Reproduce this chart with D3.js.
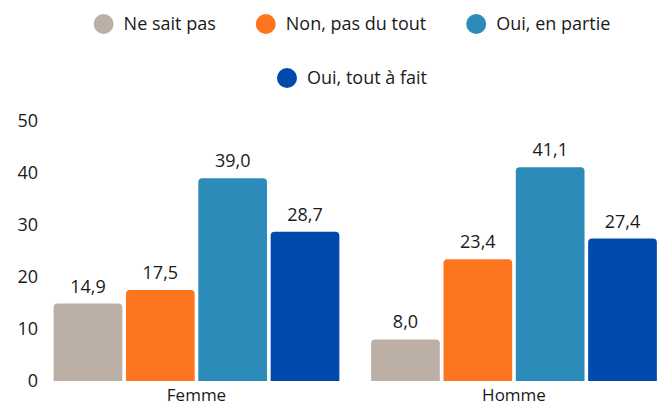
<!DOCTYPE html>
<html><head><meta charset="utf-8">
<script src="https://cdn.jsdelivr.net/npm/d3@7"></script>
<style>body{margin:0;background:#fff}text{font-family:"Open Sans",sans-serif;fill:#1a1a1a}</style>
</head><body><svg id="c" width="667" height="407"></svg>
<script>
const categories = ["Femme", "Homme"];
const seriesNames = ["Ne sait pas", "Non, pas du tout", "Oui, en partie", "Oui, tout à fait"];
const seriesColors = ["#bcb0a6", "#fe7520", "#2d8bba", "#004aad"];
const values = {
  "Ne sait pas": [14.9, 8.0],
  "Non, pas du tout": [17.5, 23.4],
  "Oui, en partie": [39.0, 41.1],
  "Oui, tout à fait": [28.7, 27.4]
};
const yTicks = [0, 10, 20, 30, 40, 50];

const svg = d3.select("#c");
const fmt = v => v.toFixed(1).replace(".", ",");
const fs = 18;

const y = d3.scaleLinear().domain([0, 50]).range([381, 121]);
const x0 = d3.scaleBand().domain(categories).range([37.75, 672.75]).paddingInner(0.1).paddingOuter(0.05);
const x1 = d3.scaleBand().domain(seriesNames).range([0, x0.bandwidth()]).paddingInner(0.05);
const color = d3.scaleOrdinal().domain(seriesNames).range(seriesColors);

// y axis labels
svg.append("g").selectAll("text").data(yTicks).join("text")
  .attr("x", 38).attr("y", d => y(d)).attr("dy", "0.35em")
  .attr("text-anchor", "end").attr("font-size", fs).text(d => d);

// bars
function topRounded(x, yTop, w, h, r) {
  r = Math.min(r, h, w / 2);
  return `M${x},${yTop + h}V${yTop + r}Q${x},${yTop} ${x + r},${yTop}H${x + w - r}Q${x + w},${yTop} ${x + w},${yTop + r}V${yTop + h}Z`;
}
const data = [];
categories.forEach((c, i) => seriesNames.forEach(s => data.push({c, s, v: values[s][i]})));
const g = svg.append("g");
g.selectAll("path").data(data).join("path")
  .attr("d", d => topRounded(x0(d.c) + x1(d.s), y(d.v), x1.bandwidth(), y(0) - y(d.v), 4))
  .attr("fill", d => color(d.s));
g.selectAll("text.v").data(data).join("text").attr("class", "v")
  .attr("x", d => x0(d.c) + x1(d.s) + x1.bandwidth() / 2)
  .attr("y", d => y(d.v) - 11)
  .attr("text-anchor", "middle").attr("font-size", fs).text(d => fmt(d.v));

// x labels
svg.append("g").selectAll("text").data(categories).join("text")
  .attr("x", d => x0(d) + x0.bandwidth() / 2).attr("y", 401)
  .attr("text-anchor", "middle").attr("font-size", 17).text(d => d);

// legend
const rows = [[0, 1, 2], [3]];
const rowY = [24, 78];
const r = 10, gapText = 10, gapItem = 40, cx = 352;
const lg = svg.append("g");
rows.forEach((row, ri) => {
  const items = row.map(i => {
    const gi = lg.append("g");
    gi.append("circle").attr("r", r).attr("cx", r).attr("cy", 0).attr("fill", seriesColors[i]);
    const t = gi.append("text").attr("x", 2 * r + gapText).attr("y", 0).attr("dy", "0.35em")
      .attr("font-size", fs).text(seriesNames[i]);
    return {gi, w: 2 * r + gapText + t.node().getComputedTextLength()};
  });
  const total = d3.sum(items, d => d.w) + gapItem * (items.length - 1);
  let xx = cx - total / 2;
  items.forEach(it => { it.gi.attr("transform", `translate(${xx},${rowY[ri]})`); xx += it.w + gapItem; });
});
</script></body></html>
